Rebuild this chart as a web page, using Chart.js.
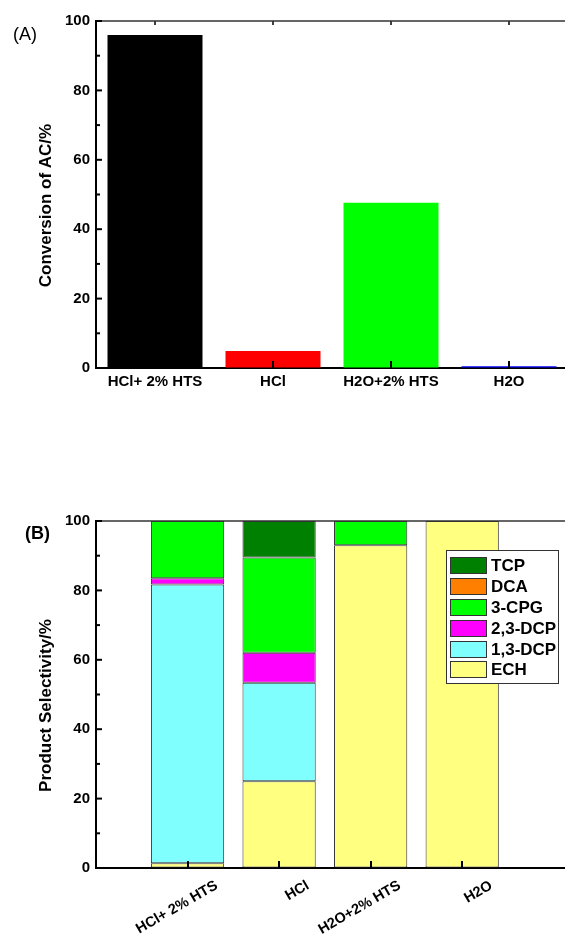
<!DOCTYPE html>
<html><head><meta charset="utf-8">
<script src="https://cdn.jsdelivr.net/npm/chart.js@4"></script>
<style>
html,body{margin:0;padding:0;background:#fff;width:565px;height:939px;overflow:hidden;}
#wrap{position:relative;width:565px;height:939px;overflow:hidden;background:#fff;}
canvas{position:absolute;left:0;}
#cA{top:0;}
#cB{top:500px;}
.lab{position:absolute;font-family:"Liberation Sans",Arial,sans-serif;font-size:18px;line-height:20px;color:#000;white-space:nowrap;}
</style></head><body>
<div id="wrap">
<canvas id="cA" width="686" height="400"></canvas>
<canvas id="cB" width="663" height="439"></canvas>
<div class="lab" style="left:13px;top:24px;">(A)</div>
<div class="lab" style="left:25px;top:523px;font-weight:bold;">(B)</div>
</div>
<script>
// ---- data ----
const categories = ['HCl+ 2% HTS', 'HCl', 'H2O+2% HTS', 'H2O'];
const conversion = [96.0, 4.9, 47.6, 0.5];
const conversionColors = ['#000000', '#ff0000', '#00ff00', '#0000ff'];
const productNames = ['ECH', '1,3-DCP', '2,3-DCP', '3-CPG', 'DCA', 'TCP'];
const selECH = [1.4, 25.0, 93.0, 100];
const sel13DCP = [80.3, 28.4, 0, 0];
const sel23DCP = [1.8, 8.6, 0, 0];
const sel3CPG = [16.5, 27.5, 7.0, 0];
const selDCA = [0, 0, 0, 0];
const selTCP = [0, 10.5, 0, 0];
const productColors = ['#ffff80', '#80ffff', '#ff00ff', '#00ff00', '#ff8000', '#008000'];
const yTicks = [0, 20, 40, 60, 80, 100];
const titleA = 'Conversion of AC/%';
const titleB = 'Product Selectivity/%';

const FONT = '"Liberation Sans", Arial, sans-serif';
Chart.defaults.font.family = FONT;
Chart.defaults.color = '#000';

const axisDeco = {
  id: 'axisDeco',
  beforeDatasetsDraw(chart) {
    const {ctx, chartArea: a, scales: {x}} = chart;
    ctx.save();
    ctx.strokeStyle = '#000'; ctx.lineWidth = 1.5;
    chart.data.labels.forEach((l, i) => {
      if (!l) return;
      const px = Math.round(x.getPixelForValue(i));
      ctx.beginPath(); ctx.moveTo(px, a.top); ctx.lineTo(px, a.top + 4); ctx.stroke();
    });
    ctx.restore();
  },
  afterDatasetsDraw(chart, args, opts) {
    const {ctx, chartArea: a, scales: {x, y}} = chart;
    ctx.save();
    ctx.strokeStyle = '#333'; ctx.lineWidth = 1.5;
    ctx.beginPath(); ctx.moveTo(a.left, a.top); ctx.lineTo(a.right, a.top); ctx.stroke();
    ctx.strokeStyle = '#000'; ctx.lineWidth = 2;
    chart.data.labels.forEach((l, i) => {
      if (!l) return;
      const px = Math.round(x.getPixelForValue(i));
      ctx.beginPath(); ctx.moveTo(px, a.bottom); ctx.lineTo(px, a.bottom - 7); ctx.stroke();
    });
    yTicks.forEach((v, k) => {
      const py = y.getPixelForValue(v);
      ctx.beginPath(); ctx.moveTo(a.left, py); ctx.lineTo(a.left + 6, py); ctx.stroke();
      if (k < yTicks.length - 1) {
        const pm = y.getPixelForValue((v + yTicks[k + 1]) / 2);
        ctx.beginPath(); ctx.moveTo(a.left, pm); ctx.lineTo(a.left + 4, pm); ctx.stroke();
      }
    });
    ctx.fillStyle = '#000';
    ctx.font = 'bold 17px ' + FONT;
    ctx.textAlign = 'center'; ctx.textBaseline = 'middle';
    ctx.translate(a.left - 50, (a.top + a.bottom) / 2 + 11);
    ctx.rotate(-Math.PI / 2);
    ctx.fillText(opts.title, 0, 0);
    ctx.restore();
  }
};

const boxLegend = {
  id: 'boxLegend',
  afterDraw(chart, args, opts) {
    if (!opts.show) return;
    const {ctx, chartArea: a} = chart;
    const L = a.left + opts.dx, T = a.top + opts.dy, W = opts.w, H = opts.h;
    ctx.save();
    ctx.fillStyle = '#fff'; ctx.fillRect(L, T, W, H);
    ctx.strokeStyle = '#333'; ctx.lineWidth = 1;
    ctx.strokeRect(L + 0.5, T + 0.5, W, H);
    const ds = chart.data.datasets.slice().reverse();
    ds.forEach((d, k) => {
      const cy = T + 15.8 + k * 20.8;
      ctx.fillStyle = d.backgroundColor;
      ctx.fillRect(L + 4, Math.round(cy - 8.5), 37, 17);
      ctx.strokeStyle = '#333';
      ctx.strokeRect(L + 4.5, Math.round(cy - 8.5) + 0.5, 36, 16);
      ctx.fillStyle = '#000';
      ctx.font = 'bold 17px ' + FONT;
      ctx.textAlign = 'left'; ctx.textBaseline = 'middle';
      ctx.fillText(d.label, L + 45, cy + 1);
    });
    ctx.restore();
  }
};

const hiddenGrid = {display: true, drawOnChartArea: false, drawTicks: false, color: 'rgba(0,0,0,0)'};
const axisBorder = {display: true, color: '#000', width: 2};

function yScale(extra) {
  return Object.assign({
    min: 0, max: 100,
    afterBuildTicks: s => { s.ticks = yTicks.map(v => ({value: v})); },
    grid: hiddenGrid, border: axisBorder,
    ticks: {font: {size: 15, weight: 'bold'}, color: '#000', padding: 6},
    afterFit: s => { s.width = 96; }
  }, extra || {});
}

new Chart(document.getElementById('cA'), {
  type: 'bar',
  data: {
    labels: [...categories, ''],
    datasets: [{
      label: 'Conversion',
      data: conversion,
      backgroundColor: conversionColors,
      borderWidth: 0,
      barPercentage: 0.805,
      categoryPercentage: 1
    }]
  },
  options: {
    responsive: false, animation: false, devicePixelRatio: 1,
    layout: {padding: {top: 21, left: 0, right: 0, bottom: 0}},
    plugins: {legend: {display: false}, tooltip: {enabled: false}, axisDeco: {title: titleA}},
    scales: {
      x: {
        offset: true, grid: hiddenGrid, border: axisBorder,
        ticks: {font: {size: 15, weight: 'bold'}, color: '#000', padding: 5, maxRotation: 0, minRotation: 0, autoSkip: false},
        afterFit: s => { s.height = 32; }
      },
      y: yScale()
    }
  },
  plugins: [axisDeco]
});

const selSeries = [selECH, sel13DCP, sel23DCP, sel3CPG, selDCA, selTCP];
new Chart(document.getElementById('cB'), {
  type: 'bar',
  data: {
    labels: ['', ...categories, '', ''],
    datasets: selSeries.map((arr, k) => ({
      label: productNames[k],
      data: [null, ...arr, null, null],
      backgroundColor: productColors[k],
      borderColor: '#333',
      borderWidth: 1,
      borderSkipped: false,
      barPercentage: 0.8,
      categoryPercentage: 1
    }))
  },
  options: {
    responsive: false, animation: false, devicePixelRatio: 1,
    layout: {padding: {top: 21, left: 0, right: 0, bottom: 0}},
    plugins: {
      legend: {display: false}, tooltip: {enabled: false},
      axisDeco: {title: titleB},
      boxLegend: {show: true, dx: 350, dy: 29, w: 112, h: 133}
    },
    scales: {
      x: {
        stacked: true, offset: false, grid: hiddenGrid, border: axisBorder,
        ticks: {font: {size: 14.5, weight: 'bold'}, color: '#000', padding: 9, labelOffset: 29, maxRotation: 30, minRotation: 30, autoSkip: false},
        afterFit: s => { s.height = 71; }
      },
      y: yScale({stacked: true})
    }
  },
  plugins: [axisDeco, boxLegend]
});
</script>
</body></html>
